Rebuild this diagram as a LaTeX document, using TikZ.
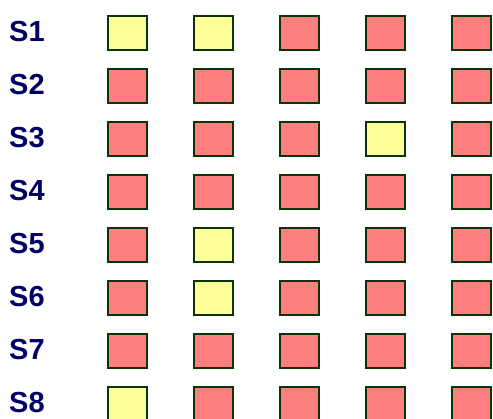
\documentclass[tikz,border=0pt]{standalone}
\usepackage{fontspec}
\setmainfont{Liberation Sans}
\definecolor{ylw}{HTML}{FFFF99}
\definecolor{rd}{HTML}{FF7F7F}
\definecolor{bd}{HTML}{0A330A}
\definecolor{nv}{HTML}{000066}
\tikzset{
  cell/.style={draw=bd, line width=1.7pt, minimum width=39pt, minimum height=34pt, inner sep=0pt, anchor=north west},
  lbl/.style={text=nv, font=\bfseries\fontsize{29}{29}\selectfont, anchor=west, inner sep=0pt}
}
\begin{document}
\begin{tikzpicture}[x=1pt,y=-1pt]
\useasboundingbox (0,0) rectangle (493,419);
\clip (0,0) rectangle (493,419);
\foreach \r/\a/\b/\cc/\d/\e in {1/ylw/ylw/rd/rd/rd,2/rd/rd/rd/rd/rd,3/rd/rd/rd/ylw/rd,4/rd/rd/rd/rd/rd,5/rd/ylw/rd/rd/rd,6/rd/ylw/rd/rd/rd,7/rd/rd/rd/rd/rd,8/ylw/rd/rd/rd/rd}{
  \node[lbl] (l\r) at (9,{32+53*(\r-1)}) {S\r};
  \node[cell, fill=\a] (c\r-1) at (107,{15+53*(\r-1)}) {};
  \node[cell, fill=\b] (c\r-2) at (193,{15+53*(\r-1)}) {};
  \node[cell, fill=\cc] (c\r-3) at (279,{15+53*(\r-1)}) {};
  \node[cell, fill=\d] (c\r-4) at (365,{15+53*(\r-1)}) {};
  \node[cell, fill=\e] (c\r-5) at (451,{15+53*(\r-1)}) {};
}
\end{tikzpicture}
\end{document}
